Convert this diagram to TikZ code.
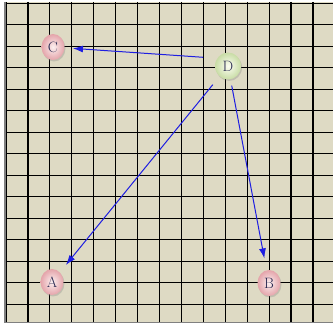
\documentclass[tikz,border=0pt]{standalone}
\usetikzlibrary{shapes.geometric,arrows.meta,shadows}
\definecolor{bg}{RGB}{222,218,196}
\definecolor{edgeblue}{RGB}{30,30,225}
\definecolor{pinkin}{RGB}{252,240,240}
\definecolor{pinkout}{RGB}{228,164,170}
\definecolor{greenin}{RGB}{252,253,242}
\definecolor{greenout}{RGB}{200,220,165}
\definecolor{lettercol}{RGB}{40,40,80}
\tikzset{
  gridline/.style={black, line width=1.2pt},
  vtx/.style={ellipse, inner sep=0pt, minimum width=23pt, minimum height=26pt,
    font=\fontsize{15}{17}\selectfont, text=lettercol,
    drop shadow={shadow xshift=1pt, shadow yshift=-1.5pt, opacity=0.3}},
  pinkball/.style={shading=radial, inner color=pinkin, outer color=pinkout},
  greenball/.style={shading=radial, inner color=greenin, outer color=greenout,
    minimum width=26pt, minimum height=27pt},
  arr/.style={edgeblue, line width=1pt, -{Latex[length=10pt,width=7pt]}}
}
\begin{document}
\begin{tikzpicture}[x=1pt,y=-1pt]
\useasboundingbox (0,0) rectangle (333,326);
\fill[bg] (5,2) rectangle (333,323);
\begin{scope}
\clip (5,2) rectangle (333,323);
\foreach \k in {0,...,15} \draw[gridline] ({6+21.93*\k},2) -- ({6+21.93*\k},323);
\foreach \k in {0,...,14} \draw[gridline] (5,{3.3+21.5*\k}) -- (333,{3.3+21.5*\k});
\end{scope}
\draw[gray, line width=1pt] (5,2) -- (5,323) -- (333,323);
\node[vtx, pinkball] (C) at (53,47) {C};
\node[vtx, greenball] (D) at (228,66) {D};
\node[vtx, pinkball] (A) at (52,282) {A};
\node[vtx, pinkball] (B) at (269,283) {B};
\draw[arr, shorten <=25pt, shorten >=20pt] ([yshift=7pt]D.center) -- (C.center);
\draw[arr, shorten <=24pt, shorten >=22pt] (D.center) -- (A.center);
\draw[arr, shorten <=20pt, shorten >=25pt] (D.center) -- (B.center);
\end{tikzpicture}
\end{document}
